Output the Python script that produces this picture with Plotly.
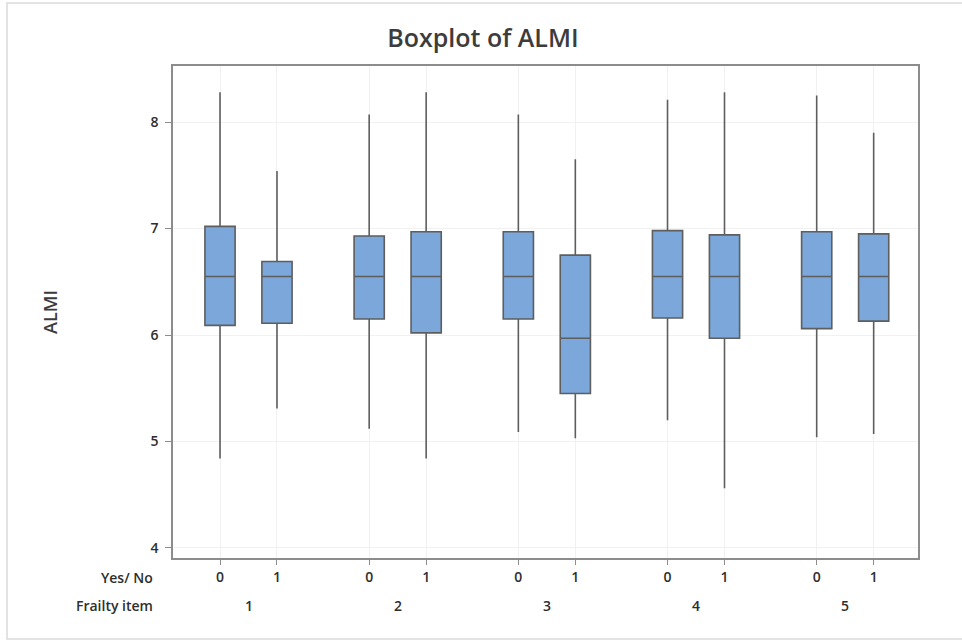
import plotly.graph_objects as go

# Frailty items and the Yes/No answer within each item
items = ["1", "2", "3", "4", "5"]
answers = ["0", "1"]

# Five-number summaries of ALMI, ordered item 1 (0, 1), item 2 (0, 1), ...
lower_whisker = [4.84, 5.31, 5.12, 4.84, 5.09, 5.03, 5.20, 4.56, 5.04, 5.07]
q1_values = [6.09, 6.11, 6.15, 6.02, 6.15, 5.45, 6.16, 5.97, 6.06, 6.13]
median_values = [6.55, 6.55, 6.55, 6.55, 6.55, 5.97, 6.55, 6.55, 6.55, 6.55]
q3_values = [7.02, 6.69, 6.93, 6.97, 6.97, 6.75, 6.98, 6.94, 6.97, 6.95]
upper_whisker = [8.28, 7.54, 8.07, 8.28, 8.07, 7.65, 8.21, 8.28, 8.25, 7.90]

y_ticks = [4, 5, 6, 7, 8]

# x layout: answers one unit apart, items separated by a wider gap
GROUP_GAP = 2.618
positions = []
tick_text = []
for g, _ in enumerate(items):
    for k, ans in enumerate(answers):
        positions.append(g * GROUP_GAP + k)
        tick_text.append(ans)

FONT = "Open Sans"
TEXT = "#2E2E2E"
label_font = dict(family=FONT, size=14, color=TEXT, weight=600)

fig = go.Figure()
fig.add_trace(go.Box(
    x=positions,
    q1=q1_values,
    median=median_values,
    q3=q3_values,
    lowerfence=lower_whisker,
    upperfence=upper_whisker,
    width=0.53,
    fillcolor="#7BA7DA",
    line=dict(color="#5E5E5E", width=1.6),
    whiskerwidth=0,
    boxpoints=False,
    hoverinfo="skip",
    showlegend=False,
))

annotations = [
    dict(text="Yes/ No", x=0, y=0, xref="paper", yref="paper",
         xanchor="right", yanchor="middle", xshift=-18, yshift=-19,
         showarrow=False, font=label_font),
    dict(text="Frailty item", x=0, y=0, xref="paper", yref="paper",
         xanchor="right", yanchor="middle", xshift=-18, yshift=-47,
         showarrow=False, font=label_font),
]
for g, item in enumerate(items):
    annotations.append(dict(
        text=item, x=g * GROUP_GAP + 0.5, y=0, xref="x", yref="paper",
        xanchor="center", yanchor="middle", yshift=-47, showarrow=False,
        font=label_font))

fig.update_layout(
    width=962, height=641,
    margin=dict(l=173, r=44, t=66, b=83),
    paper_bgcolor="white",
    plot_bgcolor="white",
    title=dict(text="Boxplot of ALMI", x=0.502, xanchor="center",
               y=0.94, yanchor="middle",
               font=dict(family=FONT, size=25, color="#3C3C3C", weight=600)),
    xaxis=dict(
        range=[-0.825, 12.25],
        tickmode="array", tickvals=positions, ticktext=tick_text,
        ticks="outside", ticklen=5, tickcolor="#8C8C8C", tickwidth=1,
        showgrid=True, gridcolor="#F1F1F1", gridwidth=1,
        showline=True, linecolor="#8C8C8C", linewidth=1.5, mirror=True,
        zeroline=False,
        tickfont=label_font,
    ),
    yaxis=dict(
        range=[3.906, 8.526],
        tickmode="array", tickvals=y_ticks,
        ticks="outside", ticklen=6, tickcolor="#8C8C8C", tickwidth=1,
        ticklabelstandoff=4,
        showgrid=True, gridcolor="#F1F1F1", gridwidth=1,
        showline=True, linecolor="#8C8C8C", linewidth=1.5, mirror=True,
        zeroline=False,
        tickfont=label_font,
        title=dict(text="ALMI", standoff=88,
                   font=dict(family=FONT, size=18, color="#3C3C3C", weight=600)),
    ),
    annotations=annotations,
    shapes=[dict(type="rect", xref="paper", yref="paper",
                 x0=-166 / 745, x1=1.2,
                 y0=-81 / 492, y1=1 + 63 / 492,
                 line=dict(color="#DADADA", width=1.5),
                 fillcolor="rgba(0,0,0,0)", layer="below")],
)

fig.write_html("out.html")
